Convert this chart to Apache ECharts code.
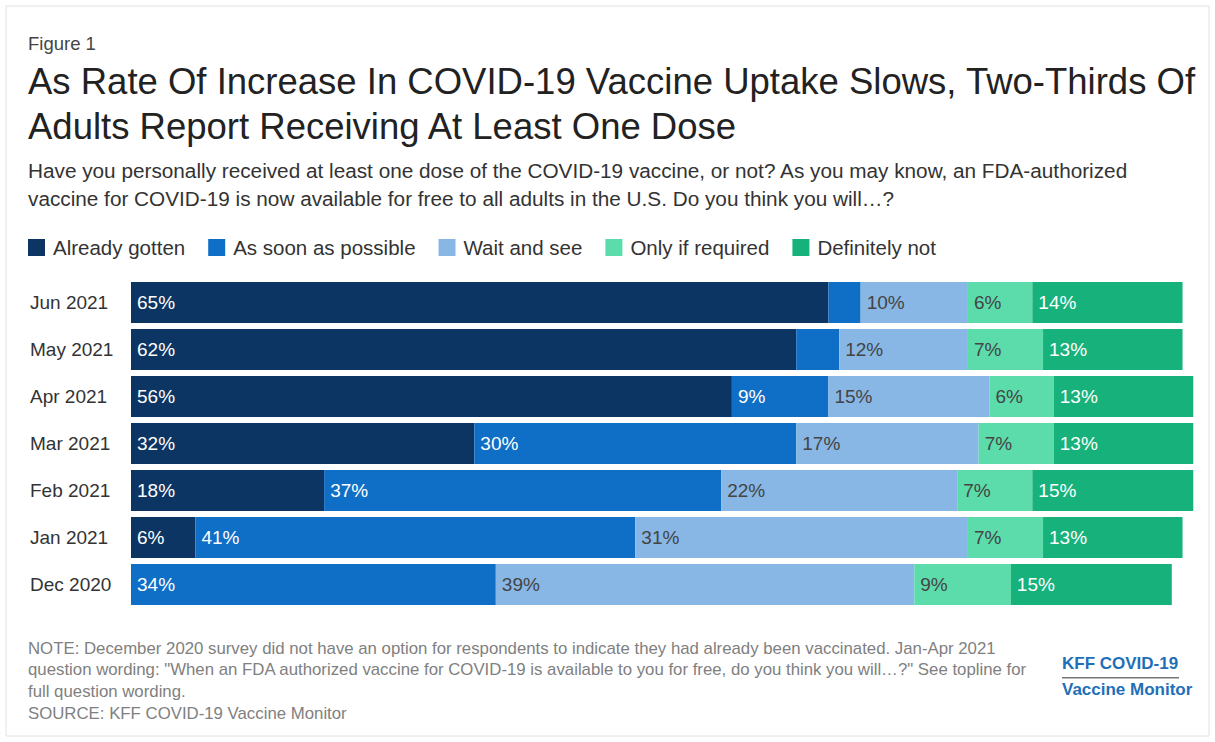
<!DOCTYPE html>
<html>
<head>
<meta charset="utf-8">
<script src="https://cdn.jsdelivr.net/npm/echarts@6/dist/echarts.min.js"></script>
<style>
html,body{margin:0;padding:0;background:#fff;}
#chart{width:1215px;height:742px;}
</style>
</head>
<body>
<div id="chart"></div>
<script>
const categories = ['Jun 2021','May 2021','Apr 2021','Mar 2021','Feb 2021','Jan 2021','Dec 2020'];
const seriesNames = ['Already gotten','As soon as possible','Wait and see','Only if required','Definitely not'];
const alreadyGotten = [65,62,56,32,18,6,'-'];
const asSoonAsPossible = [3,4,9,30,37,41,34];
const waitAndSee = [10,12,15,17,22,31,39];
const onlyIfRequired = [6,7,6,7,7,7,9];
const definitelyNot = [14,13,13,13,15,13,15];

const seriesData = [alreadyGotten, asSoonAsPossible, waitAndSee, onlyIfRequired, definitelyNot];
const colors = ['#0c3563','#0f6ec6','#88b7e5','#5cdcab','#17b27b'];
const labelColors = ['#ffffff','#ffffff','#444444','#444444','#ffffff'];
const FONT = '"Liberation Sans", Arial, sans-serif';

const chart = echarts.init(document.getElementById('chart'), null, {renderer:'svg'});

const series = seriesNames.map((name,i)=>({
  name: name,
  type: 'bar',
  stack: 'total',
  data: seriesData[i],
  barWidth: 41,
  itemStyle: {color: colors[i]},
  label: {
    show: true,
    position: 'insideLeft',
    distance: 6,
    color: labelColors[i],
    fontFamily: FONT,
    fontSize: 19,
    formatter: p => (p.value === '-' || p.value < 5) ? '' : p.value + '%'
  },
  emphasis: {disabled: true}
}));

const option = {
  animation: false,
  backgroundColor: '#fff',
  title: [
    {text: 'Figure 1', left: 23, top: 29, textStyle:{fontFamily:FONT, fontSize:18.5, fontWeight:'normal', color:'#444'}},
    {text: 'As Rate Of Increase In COVID-19 Vaccine Uptake Slows, Two-Thirds Of\nAdults Report Receiving At Least One Dose', left: 23, top: 54,
     textStyle:{fontFamily:FONT, fontSize:36.5, fontWeight:'normal', color:'#222', lineHeight:45}},
    {text: 'Have you personally received at least one dose of the COVID-19 vaccine, or not? As you may know, an FDA-authorized\nvaccine for COVID-19 is now available for free to all adults in the U.S. Do you think you will…?', left: 23, top: 151,
     textStyle:{fontFamily:FONT, fontSize:20.75, fontWeight:'normal', color:'#333', lineHeight:28}}
  ],
  legend: {
    left: 28, top: 237, padding: 0,
    itemWidth: 17, itemHeight: 17, itemGap: 23,
    icon: 'rect',
    textStyle: {fontFamily:FONT, fontSize:20.5, color:'#333', padding:[0,0,0,3]},
    data: seriesNames
  },
  grid: {left: 131, right: 11, top: 279, height: 329, containLabel: false},
  xAxis: {type:'value', min:0, max:100, show:false},
  yAxis: {
    type:'category', data: categories, inverse: true,
    axisLine:{show:false}, axisTick:{show:false},
    axisLabel:{fontFamily:FONT, fontSize:19, color:'#333', align:'left', margin:101}
  },
  series: series,
  graphic: [
    {type:'rect', shape:{x:6, y:6, width:1203, height:730}, style:{fill:'none', stroke:'#e2e2e2', lineWidth:1}, silent:true},
    {type:'text', x: 28, y: 637, scaleX: 1.05, style:{
      text: 'NOTE: December 2020 survey did not have an option for respondents to indicate they had already been vaccinated. Jan-Apr 2021\nquestion wording: "When an FDA authorized vaccine for COVID-19 is available to you for free, do you think you will…?" See topline for\nfull question wording.\nSOURCE: KFF COVID-19 Vaccine Monitor',
      fill:'#808080', font:'16px ' + FONT, lineHeight:21.7}},
    {type:'text', left: 1062, top: 655, style:{text:'KFF COVID-19', fill:'#1f6fb8', font:'bold 17px ' + FONT}},
    {type:'rect', shape:{x:1062, y:677, width:117, height:1.5}, style:{fill:'#777'}},
    {type:'text', left: 1062, top: 681, style:{text:'Vaccine Monitor', fill:'#1f6fb8', font:'bold 17px ' + FONT}}
  ]
};
chart.setOption(option);
</script>
</body>
</html>
